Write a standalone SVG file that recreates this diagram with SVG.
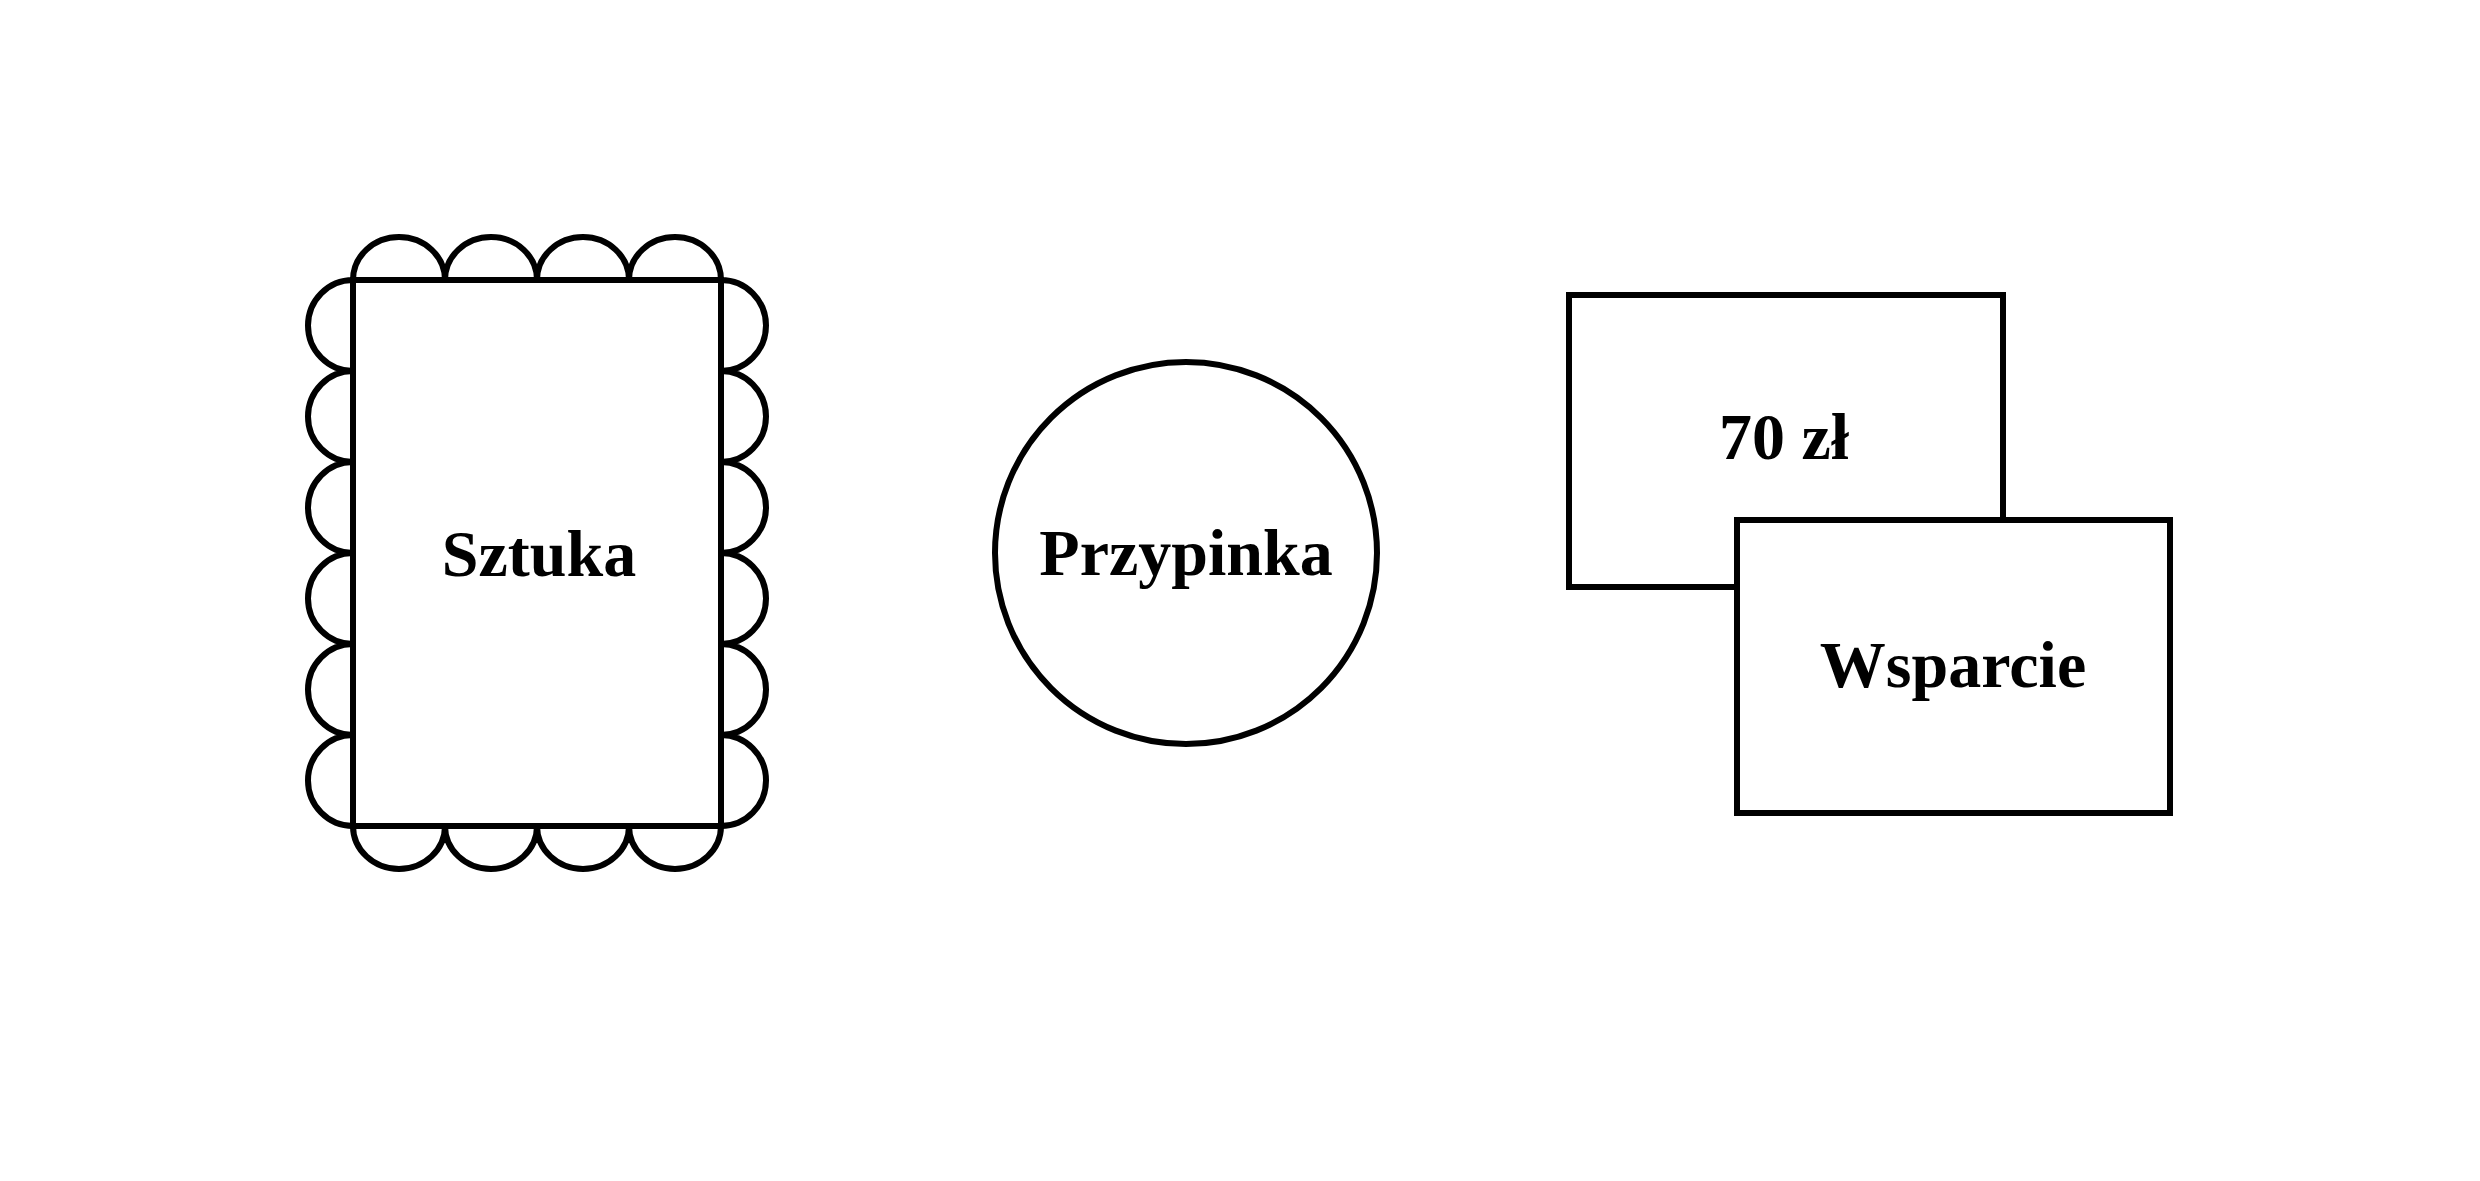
<svg xmlns="http://www.w3.org/2000/svg" width="2480" height="1181" viewBox="0 0 2480 1181">
  <style>
    .shape { fill: #ffffff; stroke: #000000; stroke-width: 6; }
    .scallop { fill: none; stroke: #000000; stroke-width: 6; }
    .label { font-family: "Liberation Serif", "DejaVu Serif", serif; font-weight: bold; font-size: 66px; fill: #000000; text-anchor: middle; }
  </style>
  <rect width="2480" height="1181" fill="#ffffff"/>
  <g id="sztuka">
    <path class="scallop" d="M353,280 A46,43 0 0 1 445,280 A46,43 0 0 1 537,280 A46,43 0 0 1 629,280 A46,43 0 0 1 721,280
      A45,45.5 0 0 1 721,371 A45,45.5 0 0 1 721,462 A45,45.5 0 0 1 721,553 A45,45.5 0 0 1 721,644 A45,45.5 0 0 1 721,735 A45,45.5 0 0 1 721,826
      A46,43 0 0 1 629,826 A46,43 0 0 1 537,826 A46,43 0 0 1 445,826 A46,43 0 0 1 353,826
      A45,45.5 0 0 1 353,735 A45,45.5 0 0 1 353,644 A45,45.5 0 0 1 353,553 A45,45.5 0 0 1 353,462 A45,45.5 0 0 1 353,371 A45,45.5 0 0 1 353,280"/>
    <rect class="shape" x="353" y="280" width="368" height="546"/>
    <text class="label" x="539" y="576">Sztuka</text>
  </g>
  <g id="przypinka">
    <circle class="shape" cx="1186" cy="553" r="191"/>
    <text class="label" x="1186" y="575">Przypinka</text>
  </g>
  <g id="cena">
    <rect class="shape" x="1569" y="295" width="434" height="292"/>
    <text class="label" x="1784" y="459">70 zł</text>
  </g>
  <g id="wsparcie">
    <rect class="shape" x="1737" y="520" width="433" height="293"/>
    <text class="label" x="1953" y="687">Wsparcie</text>
  </g>
  <g id="connectors"/>
</svg>
